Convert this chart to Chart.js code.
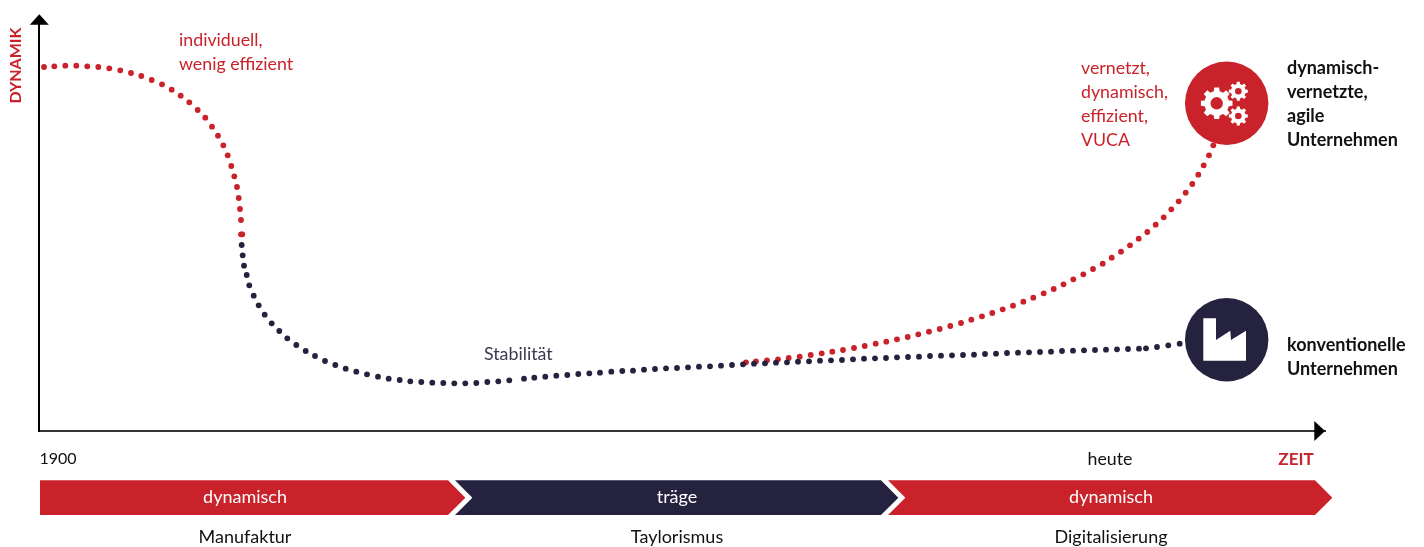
<!DOCTYPE html>
<html lang="de">
<head>
<meta charset="utf-8">
<title>Dynamik und Zeit</title>
<script src="https://cdn.jsdelivr.net/npm/chart.js@4/dist/chart.umd.js"></script>
<style>
  html, body { margin: 0; background: #fff; }
  canvas { display: block; }
</style>
</head>
<body>
<canvas id="chart" width="1424" height="547"></canvas>
<script>
const RED = '#c9222b';
const NAVY = '#24223f';
const FONT = 'Lato, sans-serif';

// early dynamic phase (red)
const earlyX = [5, 15.3, 26.3, 37.3, 48.3, 59.3, 70.3, 81.3, 92, 102.3, 112.7, 123, 132.7, 141.7, 150.3, 158.7, 166.3, 173, 179, 184.3, 188.7, 192.3, 195.3, 198, 199.7, 201, 202, 202, 203.3];
const earlyY = [364, 364.7, 365.3, 365.3, 364.7, 364, 362.7, 360.7, 358, 355, 351, 346.7, 341.3, 335.3, 328.7, 321, 313.3, 304.3, 295.3, 285.7, 275.7, 265, 254.7, 244, 233, 222, 211, 196.7, 196.7];

// sluggish phase, runs on as the conventional companies (navy)
const stableX = [202.7, 203.7, 205, 207.7, 210.3, 214.7, 219.7, 225.7, 232.7, 240.3, 248.3, 257.3, 266.7, 276, 286, 296.3, 306.7, 317.3, 328, 339, 349.7, 360.7, 371.3, 382.3, 393.3, 404.3, 415.3, 426.3, 437.3, 448.3, 459.3, 470.3, 485, 495.3, 506.3, 517.3, 528.3, 539.3, 550.3, 561, 572.3, 583.3, 594, 605, 616, 627, 638, 649, 660, 671, 682, 693, 704, 715, 726, 737, 748, 759, 770, 781, 792, 803, 814, 825, 836, 847, 858, 869, 880, 891, 902, 913, 924, 935, 946, 957, 968, 979, 990, 1001, 1012, 1023, 1034, 1045, 1056, 1067, 1078, 1089, 1100, 1107, 1118, 1129.3, 1140.7];
const stableY = [186, 175.7, 165.3, 156, 145.7, 135.3, 125.7, 116.3, 107.7, 100, 92.7, 86, 80, 75, 70, 66, 62.3, 59.3, 56.7, 54.3, 52.3, 51, 49.7, 49, 48.3, 48, 47.7, 47.7, 48, 49, 49.7, 50.7, 52.3, 53.3, 54.3, 55.3, 56, 57, 57.7, 58.3, 59.3, 60, 60.3, 61.3, 62, 62.7, 63, 63.7, 64.3, 64.7, 65.3, 66, 66.7, 67.3, 67.7, 68.3, 68.7, 69.3, 69.7, 70.3, 70.7, 71, 71.7, 72.3, 72.7, 73, 73.7, 74, 74.3, 75, 75.3, 75.7, 76, 76.3, 77, 77.3, 78, 78.3, 78.7, 79, 79.3, 80, 80.3, 80.7, 81, 81.3, 81.7, 82, 82.3, 82.7, 84, 85.7, 87.3];

// digital branch (red)
const agileX = [707, 717, 728, 739, 749.7, 760.7, 771.7, 782.7, 793.3, 804, 815, 825.7, 836.7, 847.3, 858, 868.7, 879.3, 890, 900.7, 911.3, 922, 932.3, 943, 953.3, 963.7, 974, 984.3, 994.3, 1004.7, 1014.7, 1024.5, 1034.3, 1044.3, 1054, 1063.7, 1072.7, 1082, 1091, 1099.7, 1108.3, 1116.7, 1124.7, 1132.3, 1139.7, 1146.7, 1153.3, 1159.3, 1164.7, 1170, 1174.3];
const agileY = [68.7, 69.7, 70.7, 71.7, 73, 74.3, 76, 77.7, 79.3, 81, 83, 85, 87.3, 89.3, 91.7, 94, 96.7, 99.3, 102, 105, 108, 111.3, 114.7, 118, 121.7, 125.3, 129.3, 133.3, 137.7, 142, 146.7, 151.7, 156.7, 162, 167.3, 173.3, 179.3, 185.7, 192.3, 199, 206.3, 213.7, 221.7, 229.7, 238.3, 247, 256.3, 265.7, 275.7, 285.7];

// end points carrying the icons
const hubX = [1187.7, 1187.7];
const hubY = [327.7, 91.3];
const hubColors = [RED, NAVY];

// x axis ticks
const tickValues = [19, 1071, 1257];
const tickLabels = ['1900', 'heute', 'ZEIT'];

// phases along the time axis
const phaseStart = [1, 416, 849];
const phaseEnd = [409, 842, 1276];
const phaseColors = [RED, NAVY, RED];
const phaseStates = ['dynamisch', 'träge', 'dynamisch'];
const phaseNames = ['Manufaktur', 'Taylorismus', 'Digitalisierung'];
const phaseCenters = [206, 638, 1072];

const notes = [
  { text: 'individuell,', x: 179, y: 45.5, color: RED },
  { text: 'wenig effizient', x: 179, y: 69.5, color: RED },
  { text: 'vernetzt,', x: 1081, y: 74, color: RED },
  { text: 'dynamisch,', x: 1081, y: 98, color: RED },
  { text: 'effizient,', x: 1081, y: 122, color: RED },
  { text: 'VUCA', x: 1081, y: 146, color: RED },
  { text: 'Stabilität', x: 484, y: 360, color: '#3a3853' },
  { text: 'dynamisch-', x: 1287, y: 73.5, color: '#111', bold: true },
  { text: 'vernetzte,', x: 1287, y: 97.5, color: '#111', bold: true },
  { text: 'agile', x: 1287, y: 121.5, color: '#111', bold: true },
  { text: 'Unternehmen', x: 1287, y: 145.5, color: '#111', bold: true },
  { text: 'konventionelle', x: 1287, y: 350.5, color: '#111', bold: true },
  { text: 'Unternehmen', x: 1287, y: 374.5, color: '#111', bold: true }
];

function toPoints(xs, ys) {
  return xs.map((x, i) => ({ x, y: ys[i] }));
}

function dots(label, xs, ys, color) {
  return {
    label,
    data: toPoints(xs, ys),
    showLine: false,
    pointRadius: 2.9,
    pointBorderWidth: 0,
    pointBackgroundColor: color,
    clip: false
  };
}

function drawGear(ctx, cx, cy, outer, inner, hole) {
  const teeth = 8;
  const step = Math.PI * 2 / teeth;
  ctx.beginPath();
  for (let i = 0; i < teeth; i++) {
    const a = i * step;
    const pts = [
      [inner, a - step * 0.3],
      [outer, a - step * 0.2],
      [outer, a + step * 0.2],
      [inner, a + step * 0.3]
    ];
    pts.forEach(([r, t], j) => {
      const px = cx + r * Math.cos(t);
      const py = cy + r * Math.sin(t);
      if (i === 0 && j === 0) ctx.moveTo(px, py);
      else ctx.lineTo(px, py);
    });
  }
  ctx.closePath();
  ctx.moveTo(cx + hole, cy);
  ctx.arc(cx, cy, hole, 0, Math.PI * 2);
  ctx.fill('evenodd');
}

function drawFactory(ctx, cx, cy) {
  ctx.beginPath();
  ctx.moveTo(cx - 23.4, cy - 21.4);
  ctx.lineTo(cx - 10.7, cy - 21.4);
  ctx.lineTo(cx - 10.7, cy + 0.3);
  ctx.lineTo(cx + 3.6, cy - 9);
  ctx.lineTo(cx + 4.3, cy + 0.3);
  ctx.lineTo(cx + 19.3, cy - 9);
  ctx.lineTo(cx + 19.3, cy + 21);
  ctx.lineTo(cx - 23.4, cy + 21);
  ctx.closePath();
  ctx.fill();
}

const decorations = {
  id: 'decorations',
  afterDraw(chart) {
    const { ctx, scales: { x, y } } = chart;
    ctx.save();

    // axis arrow heads
    const axisX = x.left + 0.3;
    const axisY = y.bottom;
    ctx.fillStyle = '#000';
    ctx.beginPath();
    ctx.moveTo(axisX, y.top - 10.4);
    ctx.lineTo(axisX + 9.5, y.top);
    ctx.lineTo(axisX - 9.5, y.top);
    ctx.fill();
    ctx.beginPath();
    ctx.moveTo(x.right, axisY);
    ctx.lineTo(x.right - 10.7, axisY - 10);
    ctx.lineTo(x.right - 10.7, axisY + 10);
    ctx.fill();

    // phase arrows
    const top = 480.3;
    const bottom = 515;
    const mid = (top + bottom) / 2;
    const tip = bottom - mid;
    phaseStart.forEach((start, i) => {
      const l = x.getPixelForValue(start);
      const r = x.getPixelForValue(phaseEnd[i]);
      ctx.fillStyle = phaseColors[i];
      ctx.beginPath();
      ctx.moveTo(l, top);
      ctx.lineTo(r, top);
      ctx.lineTo(r + tip, mid);
      ctx.lineTo(r, bottom);
      ctx.lineTo(l, bottom);
      if (i > 0) ctx.lineTo(l + tip, mid);
      ctx.closePath();
      ctx.fill();

      const c = x.getPixelForValue(phaseCenters[i]);
      ctx.textAlign = 'center';
      ctx.textBaseline = 'alphabetic';
      ctx.font = '18px ' + FONT;
      ctx.fillStyle = '#fff';
      ctx.fillText(phaseStates[i], c, 503);
      ctx.fillStyle = '#111';
      ctx.fillText(phaseNames[i], c, 543);
    });

    // free text
    ctx.textAlign = 'left';
    notes.forEach(n => {
      ctx.font = (n.bold ? 'bold 18px ' : '17.8px ') + FONT;
      ctx.fillStyle = n.color;
      ctx.fillText(n.text, n.x, n.y);
    });

    // y axis title
    ctx.save();
    ctx.translate(20.5, 65.5);
    ctx.rotate(-Math.PI / 2);
    ctx.textAlign = 'center';
    ctx.font = 'bold 16px ' + FONT;
    ctx.fillStyle = RED;
    ctx.fillText('DYNAMIK', 0, 0);
    ctx.restore();

    // icons on the end points
    const gx = x.getPixelForValue(hubX[0]);
    const gy = y.getPixelForValue(hubY[0]);
    ctx.fillStyle = '#fff';
    drawGear(ctx, gx - 10, gy, 16, 12.5, 6.2);
    drawGear(ctx, gx + 11.6, gy - 12, 9.6, 7.4, 3.3);
    drawGear(ctx, gx + 11.6, gy + 12.7, 9.6, 7.4, 3.3);
    drawFactory(ctx, x.getPixelForValue(hubX[1]), y.getPixelForValue(hubY[1]));

    ctx.restore();
  }
};

new Chart(document.getElementById('chart'), {
  type: 'scatter',
  data: {
    datasets: [
      {
        label: 'Unternehmen',
        data: toPoints(hubX, hubY),
        pointRadius: 41.7,
        pointBorderWidth: 0,
        pointBackgroundColor: hubColors,
        clip: false
      },
      dots('träge', stableX, stableY, NAVY),
      dots('agil', agileX, agileY, RED),
      dots('dynamisch', earlyX, earlyY, RED)
    ]
  },
  options: {
    responsive: false,
    animation: false,
    layout: { autoPadding: false, padding: { left: 39, right: 99, top: 24.7, bottom: 0 } },
    plugins: { legend: { display: false }, tooltip: { enabled: false } },
    scales: {
      x: {
        type: 'linear',
        min: 0,
        max: 1286,
        grid: { display: false, drawTicks: false },
        border: { display: true, color: '#333', width: 2 },
        afterBuildTicks: axis => { axis.ticks = tickValues.map(value => ({ value })); },
        afterFit: axis => { axis.height = 116; },
        ticks: {
          autoSkip: false,
          maxRotation: 0,
          padding: 18,
          callback: (value, i) => tickLabels[i],
          color: c => (c.index === 2 ? RED : '#111'),
          font: c => ({ family: FONT, size: c.index === 0 ? 16 : c.index === 2 ? 17 : 17.8, weight: c.index === 2 ? 'bold' : 'normal' })
        }
      },
      y: {
        type: 'linear',
        min: 0,
        max: 406.3,
        grid: { display: false, drawTicks: false },
        border: { display: true, color: '#000', width: 2 },
        ticks: { display: false },
        afterFit: axis => { axis.width = 0; }
      }
    }
  },
  plugins: [decorations]
});
</script>
</body>
</html>
